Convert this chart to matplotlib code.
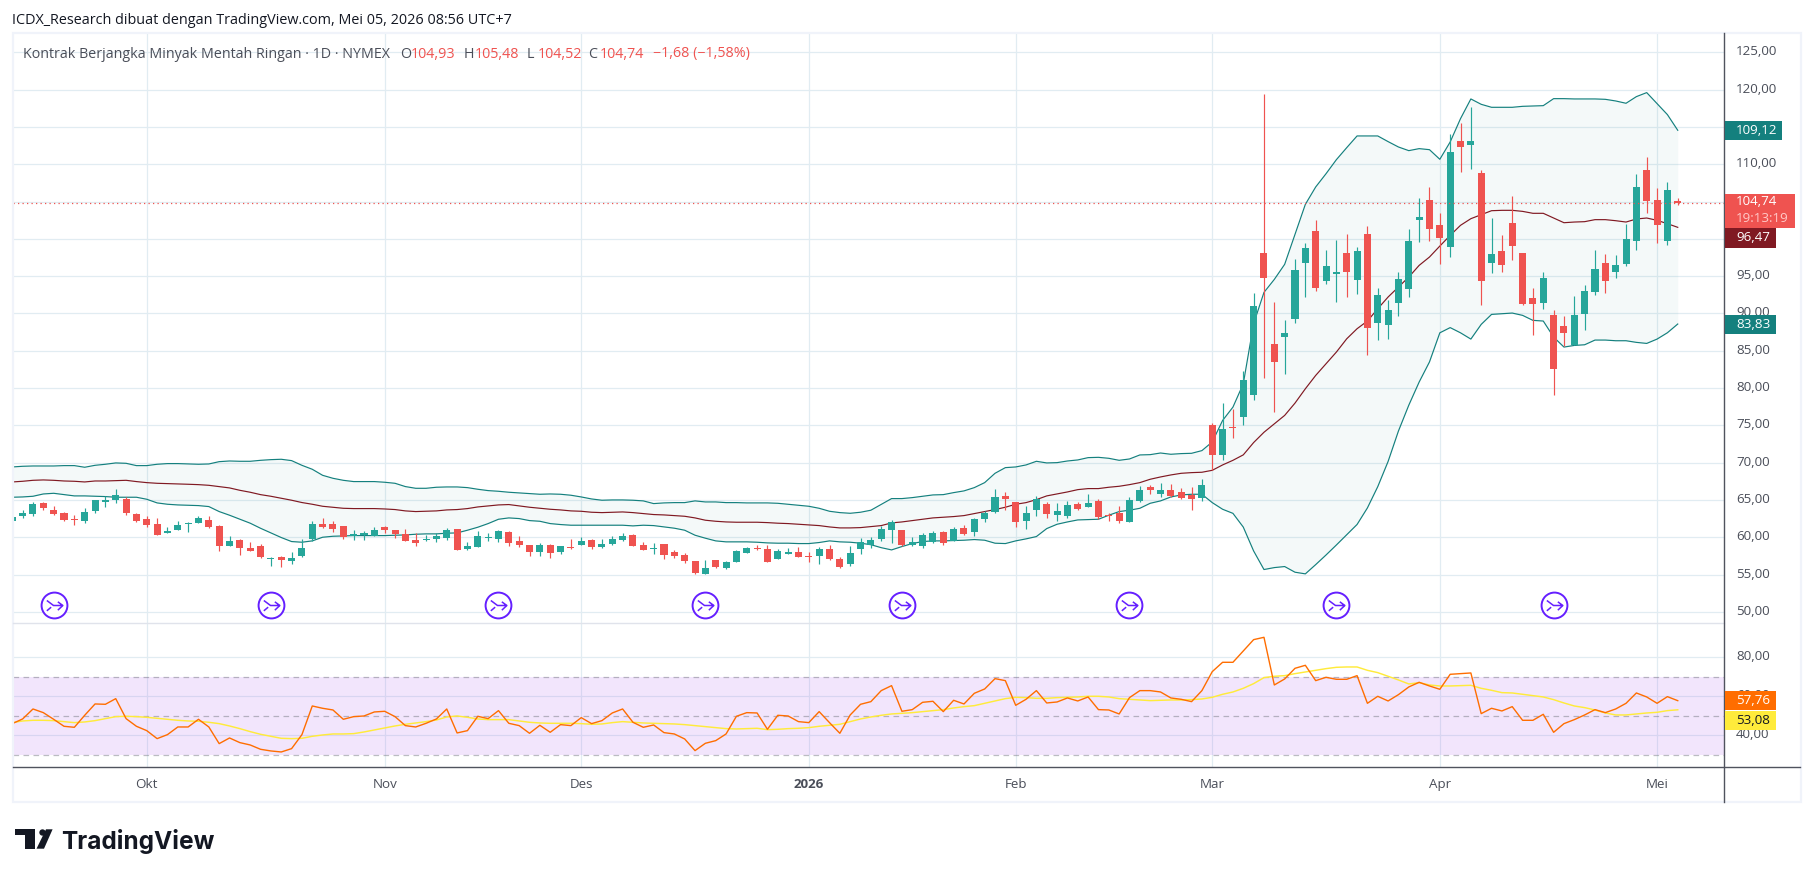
import matplotlib
matplotlib.use('Agg')
import matplotlib.pyplot as plt
from matplotlib.lines import Line2D
from matplotlib.path import Path
from matplotlib.patches import Rectangle, Polygon
from matplotlib.transforms import ScaledTranslation

W, H = 1814, 877

# daily candles, Sep 2025 - May 2026
opens = [62.2, 62.8, 63.15, 64.6, 63.66, 63.26, 62.37, 62.19, 63.53, 64.73,
         65.0, 65.13, 63.13, 62.45, 61.79, 60.58, 60.98, 61.74, 61.92, 62.32,
         61.52, 58.84, 59.64, 58.57, 58.84, 57.1, 57.37, 56.83, 57.5, 59.78,
         61.79, 61.79, 61.52, 60.18, 60.31, 60.18, 61.38, 60.98, 60.45, 59.64,
         59.64, 59.78, 59.91, 61.12, 58.39, 58.66, 59.9, 59.73, 60.67, 59.46,
         58.93, 57.99, 58.93, 57.99, 58.66, 58.93, 59.6, 58.66, 59.06, 59.6,
         60.27, 58.93, 58.44, 59.06, 57.99, 57.59, 56.79, 55.04, 56.92, 55.85,
         56.65, 57.86, 58.57, 58.39, 57.05, 57.72, 57.99, 57.41, 57.46, 58.39,
         57.05, 56.38, 58.39, 58.93, 59.78, 60.98, 60.98, 58.97, 58.84, 59.38,
         60.71, 59.51, 61.25, 60.71, 62.46, 63.39, 65.54, 64.73, 62.19, 63.66,
         64.46, 62.99, 62.86, 64.46, 64.06, 64.87, 62.99, 63.26, 62.05, 64.87,
         66.74, 65.8, 66.34, 66.07, 65.67, 65.27, 75.04, 71.03, 74.8, 76.1,
         79.0, 98.05, 85.85, 86.79, 89.2, 96.71, 101.0, 94.3, 95.23, 98.05,
         94.43, 100.6, 88.66, 88.39, 91.35, 93.22, 102.48, 105.16, 101.81, 98.86,
         113.07, 112.53, 108.78, 96.71, 98.32, 102.07, 98.05, 92.02, 91.35, 89.74,
         88.26, 85.71, 89.87, 92.82, 96.71, 95.5, 96.58, 99.66, 109.18, 105.16,
         99.66, 104.93]
highs = [62.75, 63.65, 64.75, 64.75, 64.2, 63.4, 62.99, 63.93, 65.0, 65.54,
         66.47, 65.4, 63.26, 62.86, 62.59, 61.38, 62.19, 62.05, 62.86, 62.86,
         61.65, 60.18, 59.78, 59.38, 59.11, 57.37, 57.5, 58.04, 59.78, 62.19,
         62.59, 62.19, 61.52, 60.98, 60.85, 61.38, 61.52, 60.98, 61.12, 60.58,
         60.31, 60.58, 61.25, 61.12, 59.33, 60.8, 60.54, 60.94, 60.8, 60.13,
         58.93, 59.2, 59.06, 58.79, 59.73, 60.0, 59.73, 59.73, 60.13, 60.54,
         60.4, 59.33, 59.2, 59.06, 58.26, 57.86, 56.79, 56.92, 56.92, 56.79,
         58.26, 58.66, 58.93, 58.93, 58.39, 58.53, 58.66, 57.99, 58.66, 58.93,
         57.32, 58.79, 59.87, 60.0, 61.52, 62.32, 60.98, 60.04, 60.58, 60.85,
         60.85, 61.38, 61.65, 62.59, 63.53, 66.47, 66.07, 64.73, 64.2, 65.54,
         64.73, 64.6, 64.87, 64.73, 65.8, 65.13, 63.26, 64.2, 65.4, 66.88,
         67.01, 67.28, 67.14, 66.61, 66.74, 67.81, 75.3, 78.05, 77.25, 82.23,
         92.69, 119.46, 91.48, 89.07, 97.25, 99.39, 102.48, 98.45, 99.79, 100.6,
         98.86, 101.67, 93.36, 91.75, 95.5, 101.27, 105.43, 106.9, 103.42, 114.01,
         115.48, 117.63, 109.18, 102.74, 100.46, 105.7, 98.05, 93.36, 95.5, 90.41,
         89.6, 92.29, 93.76, 98.45, 97.92, 97.78, 101.94, 108.65, 110.93, 106.77,
         107.57, 105.48]
lows = [62.15, 62.6, 62.85, 63.65, 63.0, 62.2, 61.65, 61.92, 63.26, 64.06,
        64.6, 62.99, 62.05, 61.38, 60.31, 60.58, 60.98, 60.71, 61.92, 61.25,
        58.17, 58.84, 57.63, 58.17, 57.23, 56.16, 56.03, 56.43, 57.37, 59.51,
        61.25, 60.71, 59.78, 59.64, 59.64, 60.18, 60.58, 59.91, 59.51, 58.84,
        59.51, 59.38, 59.64, 58.3, 58.26, 58.66, 59.46, 59.33, 58.8, 58.66,
        57.46, 57.46, 57.19, 57.72, 58.39, 58.93, 58.39, 58.53, 58.93, 59.46,
        58.79, 58.26, 57.72, 57.05, 57.19, 56.52, 55.04, 55.04, 55.85, 55.71,
        56.65, 57.86, 58.26, 56.65, 57.05, 57.72, 57.32, 56.65, 56.38, 56.92,
        55.85, 56.12, 57.72, 58.53, 59.51, 59.24, 58.84, 58.84, 58.57, 59.24,
        58.97, 59.51, 60.31, 60.18, 62.05, 63.26, 63.66, 61.38, 61.12, 62.86,
        62.59, 62.19, 62.59, 63.66, 64.06, 62.45, 62.19, 61.92, 62.05, 64.73,
        65.8, 65.4, 65.4, 65.13, 63.66, 64.87, 69.02, 70.36, 73.35, 74.98,
        78.34, 81.29, 76.73, 81.82, 88.66, 92.15, 92.95, 93.89, 91.48, 92.15,
        92.55, 84.37, 86.38, 86.52, 89.6, 92.15, 99.53, 99.66, 96.58, 97.51,
        108.91, 109.32, 91.08, 95.37, 95.5, 97.11, 91.08, 87.05, 90.54, 79.01,
        85.58, 85.71, 87.72, 92.42, 92.69, 94.7, 96.31, 98.45, 103.42, 99.39,
        99.12, 104.52]
closes = [62.7, 63.25, 64.45, 63.95, 63.13, 62.32, 62.28, 63.4, 65.0, 65.0,
          65.67, 63.26, 62.19, 61.65, 60.31, 60.85, 61.65, 61.85, 62.59, 61.38,
          58.84, 59.51, 58.57, 58.17, 57.37, 57.23, 56.96, 57.23, 58.57, 61.79,
          61.38, 61.12, 60.04, 60.45, 60.58, 60.98, 60.98, 60.45, 59.51, 59.24,
          59.78, 60.18, 60.98, 58.3, 58.79, 60.13, 60.0, 60.8, 59.2, 58.93,
          57.99, 58.93, 57.86, 58.79, 58.53, 59.46, 58.66, 59.06, 59.73, 60.13,
          58.79, 58.26, 58.53, 57.59, 57.46, 56.79, 55.18, 55.85, 55.98, 56.65,
          58.13, 58.53, 58.44, 56.65, 58.13, 57.99, 57.32, 57.32, 58.39, 57.05,
          55.98, 57.86, 59.33, 59.6, 61.12, 62.05, 58.97, 59.38, 60.31, 60.58,
          59.24, 61.12, 60.45, 62.46, 63.26, 65.4, 65.13, 62.05, 63.26, 65.13,
          63.13, 63.53, 64.33, 63.79, 64.6, 62.72, 62.86, 62.19, 65.0, 66.34,
          66.34, 66.34, 65.54, 65.27, 65.13, 67.01, 71.03, 74.5, 74.7, 81.02,
          90.94, 94.7, 83.43, 87.32, 95.77, 98.72, 93.36, 96.31, 95.5, 95.5,
          98.32, 87.99, 92.42, 90.41, 94.56, 99.66, 102.88, 101.27, 100.06, 111.6,
          112.27, 113.07, 94.3, 97.92, 96.44, 98.99, 91.21, 91.21, 94.7, 82.49,
          87.32, 89.74, 92.95, 95.91, 94.3, 96.44, 99.93, 106.9, 105.02, 101.81,
          106.5, 104.74]

# bollinger bands
bb_upper = [69.42, 69.51, 69.55, 69.55, 69.55, 69.6, 69.6, 69.38, 69.64, 69.78,
            69.96, 69.91, 69.6, 69.6, 69.78, 69.87, 69.87, 69.82, 69.78, 69.82,
            70.13, 70.22, 70.18, 70.18, 70.31, 70.4, 70.45, 70.27, 69.64, 69.11,
            68.3, 67.9, 67.63, 67.46, 67.46, 67.46, 67.37, 67.23, 66.79, 66.56,
            66.56, 66.7, 66.74, 66.74, 66.65, 66.43, 66.25, 66.16, 66.03, 65.94,
            65.85, 65.76, 65.8, 65.76, 65.63, 65.4, 65.13, 64.96, 65.0, 65.0,
            64.96, 64.87, 64.51, 64.6, 64.64, 64.64, 64.87, 64.73, 64.73, 64.64,
            64.64, 64.6, 64.6, 64.6, 64.55, 64.42, 64.29, 64.15, 63.88, 63.48,
            63.3, 63.21, 63.35, 63.62, 64.4, 65.18, 65.18, 65.31, 65.49, 65.67,
            65.71, 65.98, 66.21, 66.65, 67.32, 68.57, 69.33, 69.42, 69.69, 70.18,
            69.96, 70.0, 70.22, 70.36, 70.67, 70.71, 70.58, 70.31, 70.49, 71.03,
            71.07, 71.29, 71.12, 71.21, 71.25, 71.61, 72.77, 75.65, 77.44, 80.57,
            88.62, 92.82, 94.56, 96.58, 100.6, 104.62, 106.95, 108.73, 110.61, 112.22,
            113.79, 113.79, 113.79, 113.03, 112.31, 111.82, 112.09, 111.95, 110.66, 112.98,
            116.11, 118.75, 118.03, 117.63, 117.63, 117.63, 117.76, 117.81, 117.85, 118.79,
            118.79, 118.75, 118.75, 118.75, 118.7, 118.48, 118.17, 119.06, 119.6, 118.12,
            116.65, 114.55]
bb_basis = [67.41, 67.5, 67.63, 67.68, 67.63, 67.54, 67.5, 67.41, 67.54, 67.54,
            67.59, 67.63, 67.46, 67.32, 67.23, 67.19, 67.14, 67.1, 67.05, 66.96,
            66.79, 66.61, 66.29, 66.03, 65.71, 65.49, 65.22, 64.96, 64.65, 64.42,
            64.15, 64.02, 63.88, 63.84, 63.84, 63.84, 63.79, 63.71, 63.53, 63.44,
            63.48, 63.53, 63.66, 63.71, 63.84, 64.06, 64.2, 64.33, 64.38, 64.2,
            64.02, 63.88, 63.75, 63.66, 63.53, 63.48, 63.35, 63.3, 63.35, 63.39,
            63.3, 63.17, 63.04, 62.99, 62.9, 62.81, 62.59, 62.28, 62.14, 62.05,
            62.01, 62.01, 62.01, 61.96, 61.88, 61.83, 61.74, 61.65, 61.56, 61.38,
            61.25, 61.25, 61.29, 61.43, 61.56, 61.92, 62.05, 62.23, 62.41, 62.59,
            62.68, 62.77, 62.9, 63.17, 63.44, 63.71, 64.02, 64.42, 64.64, 65.04,
            65.54, 65.8, 66.07, 66.38, 66.52, 66.52, 66.7, 66.83, 67.05, 67.32,
            67.77, 68.08, 68.35, 68.57, 68.66, 68.71, 68.97, 69.69, 70.31, 71.04,
            72.69, 74.07, 75.2, 76.33, 77.98, 79.9, 81.69, 83.25, 84.82, 86.6,
            87.95, 88.98, 90.63, 92.2, 93.54, 94.88, 96.44, 97.56, 99.03, 100.46,
            101.81, 102.7, 103.24, 103.77, 103.82, 103.82, 103.68, 103.42, 103.42, 102.79,
            102.16, 102.25, 102.3, 102.57, 102.57, 102.43, 102.25, 102.66, 102.79, 102.48,
            102.03, 101.54]
bb_lower = [65.36, 65.4, 65.49, 65.8, 65.89, 65.71, 65.54, 65.54, 65.49, 65.45,
            65.36, 65.36, 65.36, 65.09, 64.6, 64.42, 64.33, 64.29, 64.24, 64.11,
            63.44, 62.95, 62.41, 61.88, 61.2, 60.58, 59.96, 59.42, 59.33, 59.51,
            60.0, 60.13, 60.18, 60.22, 60.22, 60.22, 60.22, 60.27, 60.31, 60.4,
            60.45, 60.45, 60.54, 60.58, 60.94, 61.34, 61.83, 62.41, 62.59, 62.5,
            62.23, 62.14, 61.83, 61.7, 61.61, 61.61, 61.61, 61.61, 61.61, 61.61,
            61.52, 61.61, 61.56, 61.38, 61.21, 60.94, 60.27, 59.87, 59.51, 59.38,
            59.38, 59.38, 59.33, 59.24, 59.2, 59.2, 59.15, 59.15, 59.29, 59.51,
            59.38, 59.33, 59.2, 59.0, 58.6, 58.3, 58.75, 59.15, 59.42, 59.51,
            59.51, 59.55, 59.6, 59.69, 59.6, 59.2, 59.15, 59.51, 59.78, 60.09,
            61.16, 61.74, 62.05, 62.32, 62.37, 62.41, 62.95, 63.44, 63.62, 63.88,
            64.55, 64.87, 65.4, 65.67, 65.76, 65.76, 64.64, 63.75, 63.2, 61.36,
            58.16, 55.67, 55.93, 56.07, 55.31, 55.09, 56.33, 57.62, 58.96, 60.33,
            61.71, 63.93, 66.78, 70.16, 74.24, 77.7, 80.8, 83.5, 87.4, 88.1,
            87.4, 86.56, 88.53, 89.87, 89.96, 90.05, 89.74, 89.07, 88.98, 86.83,
            85.49, 85.71, 85.8, 86.43, 86.43, 86.34, 86.34, 86.12, 85.98, 86.56,
            87.41, 88.58]

# rsi pane
rsi = [45.98, 48.38, 53.5, 51.62, 48.21, 44.62, 44.1, 50.26, 56.07, 55.9,
       58.8, 48.55, 44.62, 42.39, 38.29, 40.34, 44.27, 44.27, 48.21, 44.27,
       35.73, 38.63, 36.24, 35.04, 32.82, 31.97, 31.45, 33.16, 40.34, 55.04,
       53.85, 52.99, 48.21, 49.57, 49.91, 51.97, 52.31, 49.57, 44.96, 44.27,
       46.15, 48.38, 53.5, 41.2, 42.39, 49.74, 48.55, 52.65, 46.15, 44.96,
       41.03, 45.13, 41.54, 45.47, 44.96, 49.06, 45.98, 47.52, 51.45, 53.5,
       46.67, 44.1, 45.3, 41.37, 40.68, 38.12, 32.14, 35.9, 37.26, 40.68,
       49.74, 51.62, 51.45, 43.08, 50.26, 49.91, 47.01, 46.5, 52.14, 46.5,
       41.03, 50.43, 55.9, 57.26, 62.91, 65.47, 52.31, 53.16, 56.92, 57.44,
       52.14, 57.95, 56.07, 61.54, 63.76, 69.06, 68.03, 55.38, 58.46, 62.91,
       56.58, 57.09, 59.15, 57.61, 59.66, 53.16, 52.99, 50.94, 59.32, 62.91,
       62.91, 62.22, 59.15, 58.46, 57.26, 62.91, 72.65, 77.44, 77.44, 83.25,
       89.06, 90.26, 65.81, 68.89, 74.36, 75.9, 68.03, 69.74, 68.72, 68.72,
       70.6, 56.41, 60.0, 57.61, 60.85, 64.79, 67.18, 65.3, 63.59, 71.28,
       71.62, 71.97, 51.11, 53.85, 52.48, 54.7, 47.69, 47.69, 50.77, 41.54,
       45.98, 48.03, 50.43, 53.16, 51.62, 53.5, 56.41, 61.71, 59.66, 56.41,
       59.83, 57.76]
rsi_ma = [46.5, 47.35, 47.69, 47.69, 47.52, 47.01, 46.5, 46.84, 47.52, 48.55,
          49.57, 49.74, 49.57, 49.23, 48.72, 48.21, 47.69, 47.35, 47.18, 46.67,
          45.98, 44.79, 43.42, 41.88, 40.51, 39.49, 38.46, 38.29, 38.46, 39.49,
          40.17, 40.68, 40.68, 40.85, 41.71, 42.74, 43.76, 44.79, 45.64, 46.32,
          47.01, 47.86, 49.4, 49.91, 49.23, 48.38, 48.03, 48.03, 48.03, 47.35,
          46.67, 46.32, 46.15, 46.15, 46.15, 45.98, 45.64, 45.81, 46.5, 47.01,
          46.67, 46.32, 46.15, 45.98, 45.81, 45.47, 44.96, 44.44, 43.93, 43.42,
          43.25, 43.42, 43.59, 42.91, 43.08, 43.42, 43.59, 43.93, 44.62, 45.13,
          45.64, 47.01, 48.38, 49.4, 50.26, 50.94, 51.28, 51.62, 52.14, 52.65,
          53.16, 54.02, 54.7, 55.21, 56.41, 57.61, 58.8, 59.49, 59.32, 58.97,
          58.97, 59.32, 59.49, 59.66, 60.0, 60.0, 59.66, 58.8, 58.46, 58.12,
          57.78, 57.95, 58.12, 58.12, 58.29, 58.63, 59.49, 61.03, 62.22, 64.1,
          66.5, 69.57, 70.26, 70.6, 71.62, 72.48, 73.33, 74.19, 74.87, 75.04,
          75.04, 73.33, 72.14, 70.26, 68.38, 66.32, 67.01, 65.81, 65.3, 65.3,
          65.47, 65.64, 64.1, 63.08, 61.88, 61.71, 61.03, 60.34, 59.66, 58.29,
          56.58, 55.04, 54.19, 52.99, 51.45, 50.43, 50.43, 50.94, 51.45, 51.79,
          52.65, 53.08]

month_bars = [13, 36, 55, 77, 97, 116, 138, 159]
month_labels = ['Okt', 'Nov', 'Des', '2026', 'Feb', 'Mar', 'Apr', 'Mei']
event_bars = [4, 25, 47, 67, 86, 108, 128, 149]
price_ticks = [125, 120, 115, 110, 105, 100, 95, 90, 85, 80, 75, 70, 65, 60, 55, 50]
rsi_ticks = [80, 60, 40]

GREEN = '#26a69a'
RED = '#ef5350'
TEAL = '#14807e'
MAROON = '#801922'
ORANGE = '#ff6d00'
YELLOW = '#ffeb3b'
GRID = '#e1ecf2'
TXT = '#4a4e59'

plt.rcParams['font.family'] = ['Open Sans', 'DejaVu Sans']


def px(x, y):
    return x / W, 1 - y / H


def ax_at(x0, y0, x1, y1):
    return fig.add_axes([x0 / W, 1 - y1 / H, (x1 - x0) / W, (y1 - y0) / H])


def box(x0, y0, x1, y1, color):
    fig.add_artist(Rectangle(px(x0, y1), (x1 - x0) / W, (y1 - y0) / H, transform=fig.transFigure,
                             facecolor=color, edgecolor='none', zorder=5))


def label(x, y, s, color=TXT, size=9.6, **kw):
    fig.text(*px(x, y), s, color=color, fontsize=size, va='center', zorder=6, **kw)


def rule(x0, y0, x1, y1, color, lw=0.8):
    fig.add_artist(Line2D([x0 / W, x1 / W], [1 - y0 / H, 1 - y1 / H], transform=fig.transFigure,
                          color=color, lw=lw, zorder=4))


fig = plt.figure(figsize=(W / 100, H / 100), dpi=100, facecolor='white')
ax = ax_at(12.7, 33, 1724.3, 622.5)
ax2 = ax_at(12.7, 622.5, 1724.3, 767)

bars = list(range(len(closes)))
xlim = (0.04, 165.5)

# ---- price pane
ax.fill_between(bars, bb_lower, bb_upper, color='#0f7c7c', alpha=0.045, lw=0, zorder=1)
ax.plot(bars, bb_upper, color=TEAL, lw=0.85, zorder=2)
ax.plot(bars, bb_lower, color=TEAL, lw=0.85, zorder=2)
ax.plot(bars, bb_basis, color=MAROON, lw=0.85, zorder=2)

colors = [GREEN if c >= o else RED for o, c in zip(opens, closes)]
ax.vlines(bars, lows, highs, colors=colors, lw=0.85, zorder=3)
bottoms = [min(o, c) for o, c in zip(opens, closes)]
heights = [max(abs(c - o), 0.12) for o, c in zip(opens, closes)]
heights[-1] = 0.36  # the live bar is drawn about 3 px tall
ax.bar(bars, heights, bottom=bottoms, width=0.68, color=colors, lw=0, zorder=4)

ax.axhline(closes[-1], color=RED, lw=0.9, ls=(0, (1, 2.6)), zorder=5)

ax.set_xlim(*xlim)
ax.set_ylim(48.57, 127.59)
ax.set_yticks(price_ticks)
ax.set_yticklabels(['%d,00' % t for t in price_ticks])
ax.yaxis.tick_right()
ax.tick_params(axis='y', length=0, pad=8.5, labelsize=9.6, labelcolor=TXT)
ax.set_xticks(month_bars)
ax.tick_params(axis='x', length=0, labelbottom=False)
ax.grid(True, color=GRID, lw=0.9, zorder=0)
ax.set_axisbelow(True)

# event icons
arrow_path = Path([(-23, 15), (-3, 0), (23, 0), (10, 11), (25, 0), (10, -14), (-23, -16), (-10, -5)],
                  [Path.MOVETO, Path.LINETO, Path.LINETO, Path.MOVETO, Path.LINETO, Path.LINETO,
                   Path.MOVETO, Path.LINETO])
event_y = [50.87] * len(event_bars)
ax.plot(event_bars, event_y, ls='none', marker='o', ms=18.6, mfc='white', mec='#651fff', mew=1.4, zorder=6)
ax.plot(event_bars, event_y, ls='none', marker=arrow_path, ms=12, mfc='none', mec='#651fff', mew=1.1, zorder=7)

# ---- rsi pane
ax2.axhspan(30, 70, color='#9b30ee', alpha=0.12, lw=0, zorder=1)
for level in [70, 50, 30]:
    ax2.axhline(level, color='#787b86', alpha=0.5, lw=0.9, ls=(0, (4.5, 3.5)), zorder=2)
ax2.plot(bars, rsi_ma, color=YELLOW, lw=1.05, zorder=3)
ax2.plot(bars, rsi, color=ORANGE, lw=1.0, zorder=4)

ax2.set_xlim(*xlim)
ax2.set_ylim(23.74, 97.85)
ax2.set_yticks(rsi_ticks)
ax2.set_yticklabels(['%d,00' % t for t in rsi_ticks])
ax2.yaxis.tick_right()
ax2.tick_params(axis='y', length=0, pad=8.5, labelsize=9.6, labelcolor=TXT)
ax2.set_xticks(month_bars)
ax2.set_xticklabels(month_labels)
ax2.tick_params(axis='x', length=0, pad=8, labelsize=9.6, labelcolor=TXT)
ax2.get_xticklabels()[3].set_fontweight('bold')
ax2.grid(True, color=GRID, lw=0.9, zorder=0)
ax2.set_axisbelow(True)

# scale labels sit about 2 px above their gridline
lift = ScaledTranslation(0, 2 / 100, fig.dpi_scale_trans)
for a in (ax, ax2):
    for t in a.get_yticklabels():
        t.set_transform(t.get_transform() + lift)
    for s in a.spines.values():
        s.set_visible(False)

# ---- frame
fig.add_artist(Rectangle(px(12.5, 802), 1788 / W, 769 / H, transform=fig.transFigure,
                         facecolor='none', edgecolor='#f0f3fa', lw=1.6, zorder=3))
rule(12.7, 622.5, 1724.3, 622.5, '#e0e3eb', 1.0)
rule(12.7, 767, 1800, 767, '#50535e', 1.0)
rule(1724.3, 33, 1724.3, 802, '#50535e', 1.0)

# ---- header text
label(12.4, 20, 'ICDX_Research dibuat dengan TradingView.com, Mei 05, 2026 08:56 UTC+7', color='#131722', size=10.35)
label(23.4, 54, 'Kontrak Berjangka Minyak Mentah Ringan · 1D · NYMEX', size=10.25)
for x, head, val in [(400, 'O', '104,93'), (464, 'H', '105,48'), (527, 'L', '104,52'), (588.5, 'C', '104,74')]:
    label(x, 54, head, size=10.25)
    label(x + 11, 54, val, color=RED, size=10.25)
label(652.7, 54, '−1,68 (−1,58%)', color=RED, size=10.25)

# ---- price scale boxes
box(1725, 121, 1782, 140, TEAL)
label(1736, 130.5, '109,12', color='white')
box(1725, 194, 1795, 228, RED)
label(1736, 201.5, '104,74', color='white')
label(1736, 219, '19:13:19', color='#ffc9c7')
box(1725, 228, 1776, 248, MAROON)
label(1736, 238, '96,47', color='white')
box(1725, 315, 1776, 334, TEAL)
label(1736, 324.5, '83,83', color='white')
box(1725, 691, 1776, 710, ORANGE)
label(1736, 700.5, '57,76', color='white')
box(1725, 711, 1776, 730, YELLOW)
label(1736, 720.5, '53,08', color='#131722')

# ---- logo
logo = '#131722'
fig.add_artist(Polygon([px(15, 829.3), px(34.8, 829.3), px(34.8, 848.7), px(24.5, 848.7), px(24.5, 835), px(15, 835)],
                       transform=fig.transFigure, facecolor=logo, edgecolor='none'))
fig.add_artist(Polygon([px(52.6, 829.3), px(46, 829.3), px(36.5, 848.7), px(44, 848.7)],
                       transform=fig.transFigure, facecolor=logo, edgecolor='none'))
dot_x, dot_y = px(41.5, 832.3)
fig.add_artist(Line2D([dot_x], [dot_y], transform=fig.transFigure, marker='o', ms=4.6, color=logo, mew=0))
fig.text(*px(61, 849), 'TradingView', color=logo, fontsize=17.6, fontweight='bold',
         family=['Inter', 'DejaVu Sans'], va='baseline')

fig.savefig('out.png', dpi=100)
